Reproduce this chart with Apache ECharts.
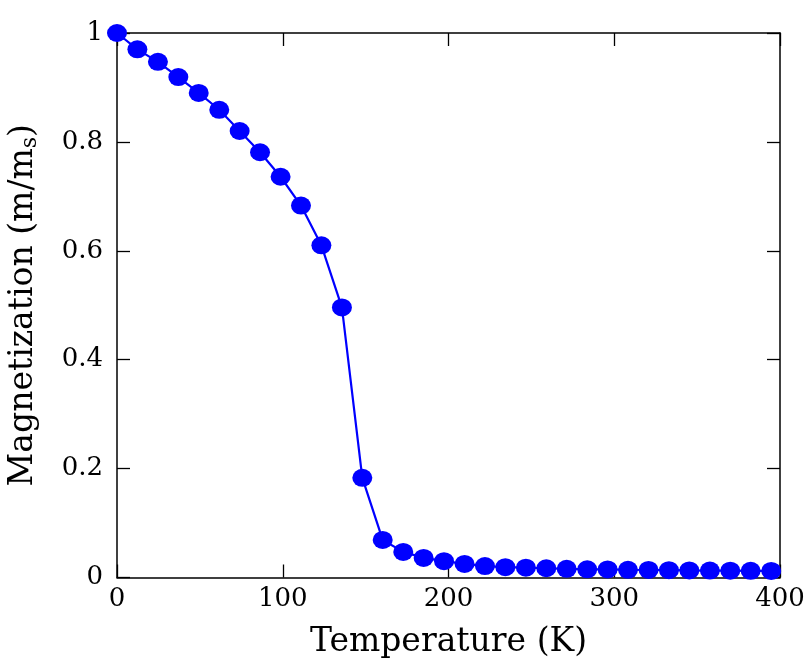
<!DOCTYPE html>
<html>
<head>
<meta charset="utf-8">
<script src="https://cdn.jsdelivr.net/npm/echarts@6/dist/echarts.min.js"></script>
<style>
html,body{margin:0;padding:0;background:#fff;}
#chart{width:809px;height:663px;}
</style>
</head>
<body>
<div id="chart"></div>
<script>
// Temperature (K)
var temperature = [0, 12.3, 24.7, 37, 49.3, 61.7, 74, 86.3, 98.7, 111, 123.3, 135.7, 148, 160.3, 172.7, 185, 197.3, 209.7, 222, 234.3, 246.7, 259, 271.3, 283.7, 296, 308.3, 320.7, 333, 345.3, 357.7, 370, 382.3, 394.7];
// Magnetization (m/ms)
var magnetization = [1.0, 0.970, 0.947, 0.919, 0.890, 0.859, 0.820, 0.781, 0.736, 0.683, 0.610, 0.496, 0.183, 0.069, 0.047, 0.036, 0.030, 0.025, 0.021, 0.019, 0.018, 0.017, 0.016, 0.015, 0.0148, 0.0142, 0.0138, 0.0134, 0.013, 0.0128, 0.0125, 0.0122, 0.012];
var xTicks = [0, 100, 200, 300, 400];
var yTicks = [0, 0.2, 0.4, 0.6, 0.8, 1];

var points = temperature.map(function (t, i) { return [t, magnetization[i]]; });
var font = 'DejaVu Serif';
var chart = echarts.init(document.getElementById('chart'), null, {renderer: 'canvas'});
var axisCommon = {
  axisLine: {show: true, onZero: false, lineStyle: {color: '#000', width: 1.5}},
  axisTick: {show: true, inside: true, length: 13, lineStyle: {color: '#000', width: 1.3}},
  splitLine: {show: false}
};
chart.setOption({
  animation: false,
  backgroundColor: '#fff',
  grid: {left: 117, right: 29, top: 33, bottom: 85.5, containLabel: false, outerBoundsMode: 'none'},
  xAxis: [
    Object.assign({
      type: 'value', min: xTicks[0], max: xTicks[xTicks.length - 1], interval: 100, position: 'bottom',
      name: 'Temperature (K)', nameLocation: 'middle', nameGap: 48,
      nameTextStyle: {fontFamily: font, fontSize: 33, color: '#000'},
      axisLabel: {fontFamily: font, fontSize: 26, color: '#000', margin: 9}
    }, axisCommon),
    Object.assign({
      type: 'value', min: xTicks[0], max: xTicks[xTicks.length - 1], interval: 100, position: 'top',
      axisLabel: {show: false}
    }, axisCommon)
  ],
  yAxis: [
    Object.assign({
      type: 'value', min: yTicks[0], max: yTicks[yTicks.length - 1], interval: 0.2, position: 'left',
      name: 'Magnetization (m/m{s|s})', nameLocation: 'middle', nameGap: 76, nameRotate: 90,
      nameTextStyle: {fontFamily: font, fontSize: 33, color: '#000', rich: {s: {fontFamily: font, fontSize: 22, color: '#000', padding: [13, 0, 0, 0]}}},
      axisLabel: {fontFamily: font, fontSize: 26, color: '#000', margin: 14}
    }, axisCommon),
    Object.assign({
      type: 'value', min: yTicks[0], max: yTicks[yTicks.length - 1], interval: 0.2, position: 'right',
      axisLabel: {show: false}
    }, axisCommon)
  ],
  series: [{
    type: 'line',
    data: points,
    xAxisIndex: 0, yAxisIndex: 0,
    symbol: 'circle',
    symbolSize: [20, 18],
    clip: false,
    lineStyle: {color: '#0000ff', width: 2.2},
    itemStyle: {color: '#0000ff'},
    z: 5
  }]
});
</script>
</body>
</html>
